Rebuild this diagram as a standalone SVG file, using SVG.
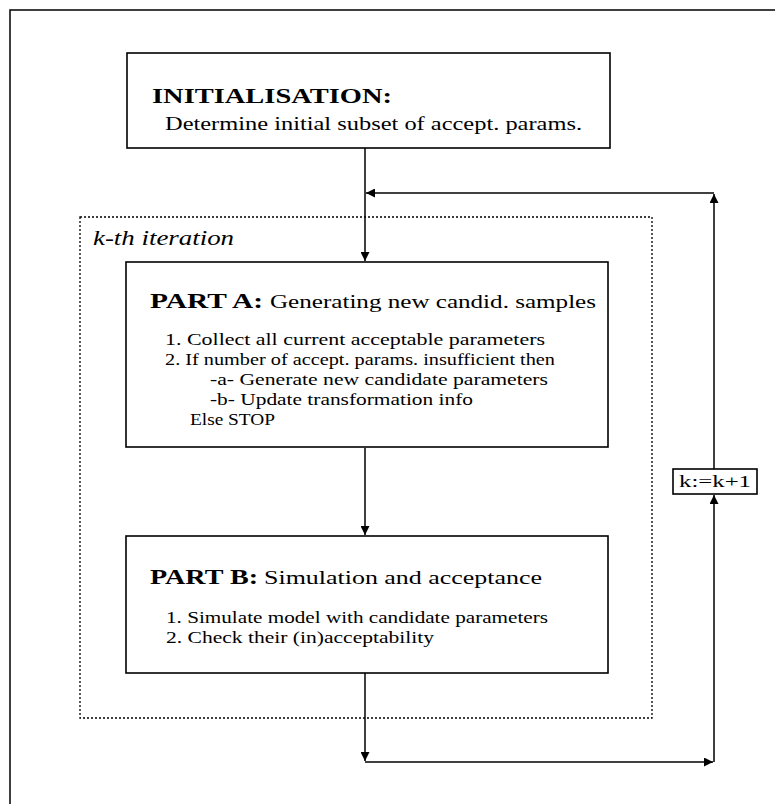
<svg xmlns="http://www.w3.org/2000/svg" width="775" height="804" viewBox="0 0 775 804">
<style>
.box{fill:#fff;stroke:#000;stroke-width:1.6}
.dot{fill:none;stroke:#000;stroke-width:1.3;stroke-dasharray:2 2}
.ln{fill:none;stroke:#000;stroke-width:1.5}
.t{font-family:"Liberation Serif","DejaVu Serif",serif;fill:#000}
.h{font-weight:bold;font-size:22px}
.s{font-size:19px}
.i{font-size:16px}
</style>
<defs>
<marker id="ah" viewBox="0 0 10 10" refX="10" refY="5" markerWidth="9" markerHeight="9" markerUnits="userSpaceOnUse" orient="auto">
<path d="M0,0 L10,5 L0,10 Z" fill="#000"/>
</marker>
</defs>
<rect width="775" height="804" fill="#fff"/>
<g id="frame">
<path class="ln" d="M10,804 V10 H775"/>
</g>
<g id="iteration">
<rect class="dot" x="80" y="217" width="572" height="501"/>
<text class="t" x="93" y="245" font-size="21" font-style="italic" textLength="141" lengthAdjust="spacingAndGlyphs">k-th iteration</text>
</g>
<g id="init">
<rect class="box" x="127" y="53" width="483" height="95"/>
<text class="t h" x="152" y="103" textLength="240" lengthAdjust="spacingAndGlyphs">INITIALISATION:</text>
<text class="t s" x="165" y="130" textLength="417" lengthAdjust="spacingAndGlyphs">Determine initial subset of accept. params.</text>
</g>
<g id="partA">
<rect class="box" x="126" y="262" width="482" height="185"/>
<text class="t h" x="150" y="308" textLength="113" lengthAdjust="spacingAndGlyphs">PART A:</text>
<text class="t s" x="270" y="308" textLength="326" lengthAdjust="spacingAndGlyphs">Generating new candid. samples</text>
<text class="t i" x="165" y="345" textLength="380" lengthAdjust="spacingAndGlyphs">1. Collect all current acceptable parameters</text>
<text class="t i" x="165" y="365" textLength="390" lengthAdjust="spacingAndGlyphs">2. If number of accept. params. insufficient then</text>
<text class="t i" x="210" y="385" textLength="338" lengthAdjust="spacingAndGlyphs">-a- Generate new candidate parameters</text>
<text class="t i" x="210" y="405" textLength="263" lengthAdjust="spacingAndGlyphs">-b- Update transformation info</text>
<text class="t i" x="190" y="425" textLength="85" lengthAdjust="spacingAndGlyphs">Else STOP</text>
</g>
<g id="partB">
<rect class="box" x="126" y="536" width="482" height="137"/>
<text class="t h" x="150" y="584" textLength="108" lengthAdjust="spacingAndGlyphs">PART B:</text>
<text class="t s" x="264" y="584" textLength="278" lengthAdjust="spacingAndGlyphs">Simulation and acceptance</text>
<text class="t i" x="166" y="623" textLength="382" lengthAdjust="spacingAndGlyphs">1. Simulate model with candidate parameters</text>
<text class="t i" x="166" y="643" textLength="268" lengthAdjust="spacingAndGlyphs">2. Check their (in)acceptability</text>
</g>
<g id="counter">
<rect class="box" x="673" y="469" width="84" height="25"/>
<text class="t" x="715" y="487" font-size="16" text-anchor="middle" textLength="72" lengthAdjust="spacingAndGlyphs">k:=k+1</text>
</g>
<g id="connectors">
<path class="ln" d="M365,148 V261" marker-end="url(#ah)"/>
<path class="ln" d="M365,448 V535" marker-end="url(#ah)"/>
<path class="ln" d="M365,673 V761" marker-end="url(#ah)"/>
<path class="ln" d="M365,762 H713" marker-end="url(#ah)"/>
<path class="ln" d="M714,762 V495" marker-end="url(#ah)"/>
<path class="ln" d="M714,469 V194" marker-end="url(#ah)"/>
<path class="ln" d="M714,193 H366" marker-end="url(#ah)"/>
</g>
</svg>
